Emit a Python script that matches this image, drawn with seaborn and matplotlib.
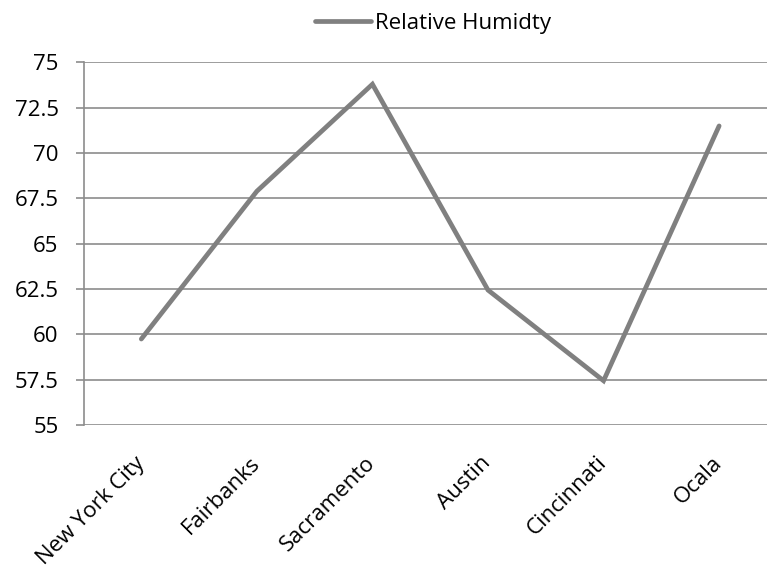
import matplotlib
matplotlib.use("Agg")
import matplotlib.pyplot as plt
import seaborn as sns
import pandas as pd
import numpy as np

cities = ["New York City", "Fairbanks", "Sacramento", "Austin", "Cincinnati", "Ocala"]
humidity = [59.75, 67.9, 73.8, 62.45, 57.45, 71.5]
y_ticks = [55, 57.5, 60, 62.5, 65, 67.5, 70, 72.5, 75]
series_name = "Relative Humidty"

sns.set_theme(style="white")
plt.rcParams["font.family"] = ["Open Sans", "DejaVu Sans"]
plt.rcParams["text.color"] = "black"
plt.rcParams["xtick.color"] = "black"
plt.rcParams["ytick.color"] = "black"

df = pd.DataFrame({"City": cities, "Humidity": humidity, "Series": series_name})

fig = plt.figure(figsize=(7.67, 5.73), dpi=100)
ax = fig.add_axes([0.1089, 0.258, 0.904, 0.633])

grid_col = "#8c8c8c"
fs = 16
for v in y_ticks:
    ax.axhline(v, color=grid_col, lw=1.2, zorder=1)

sns.lineplot(data=df, x="City", y="Humidity", hue="Series", palette=["#808080"],
             lw=3.4, ax=ax, sort=False, zorder=3)
for ln in ax.lines:
    ln.set_solid_capstyle("round")
    ln.set_solid_joinstyle("miter")

ax.set_xlim(-0.5, 5.5)
ax.set_ylim(55, 75)
ax.set_yticks(y_ticks)
ax.set_yticklabels([f"{v:g}" for v in y_ticks], fontsize=fs, color="black")
ax.set_xticks(range(len(cities)))
ax.set_xticklabels(cities, rotation=45, ha="right", va="center",
                   rotation_mode="anchor", fontsize=fs, color="black")
ax.set_xticks(np.arange(-0.5, len(cities) + 0.5, 1.0), minor=True)
ax.tick_params(axis="x", which="major", length=0, pad=25)
ax.tick_params(axis="x", which="minor", length=6, color=grid_col, width=1.2, direction="out")
ax.tick_params(axis="y", length=6, color=grid_col, width=1.2, direction="out", pad=12, left=True)
ax.set_xlabel("")
ax.set_ylabel("")

for side in ["top", "right", "bottom"]:
    ax.spines[side].set_visible(False)
ax.spines["left"].set_color(grid_col)
ax.spines["left"].set_linewidth(1.2)

handles, labels = ax.get_legend_handles_labels()
leg = ax.legend(handles, labels, loc="center", frameon=False, fontsize=fs,
                handlelength=2.5, handletextpad=0.2)
leg.set_bbox_to_anchor((433 / 767, 1 - 23 / 573), transform=fig.transFigure)
for t in leg.get_texts():
    t.set_color("black")

fig.savefig("out.png", dpi=100)
